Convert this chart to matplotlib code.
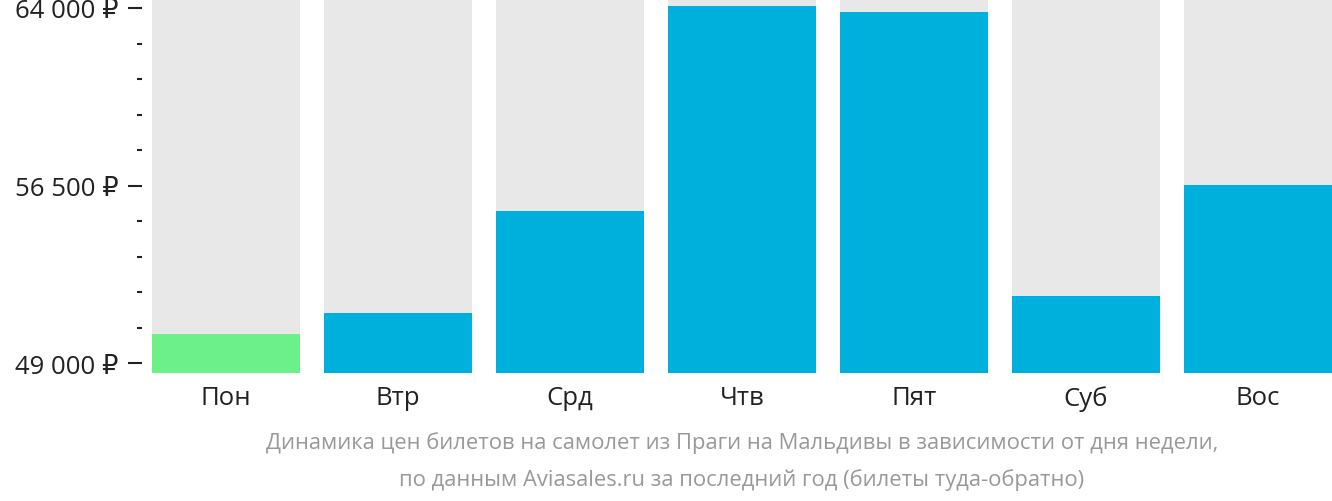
import matplotlib
matplotlib.use("Agg")
import matplotlib.pyplot as plt
from matplotlib.ticker import FixedLocator, FuncFormatter

plt.rcParams['font.family'] = ['Open Sans', 'DejaVu Sans']

days = ["Пон", "Втр", "Срд", "Чтв", "Пят", "Суб", "Вос"]
prices = [50225, 51110, 55420, 64080, 63830, 51830, 56520]
colors = ["#6cf08a", "#00b0dc", "#00b0dc", "#00b0dc", "#00b0dc", "#00b0dc", "#00b0dc"]
major_ticks = [49000, 56500, 64000]
minor_ticks = [50500, 52000, 53500, 55000, 58000, 59500, 61000, 62500]

y_min, y_max = 48580, 64380
width = 0.86

fig = plt.figure(figsize=(13.32, 5.02), dpi=100)
ax = fig.add_axes([152 / 1332, 1 - 374 / 502, 1 - 152 / 1332, 374 / 502])

x = range(len(days))
ax.bar(x, [y_max - y_min] * len(days), bottom=y_min, width=width, color="#e8e8e8")
ax.bar(x, [p - y_min for p in prices], bottom=y_min, width=width, color=colors)

ax.set_xlim(-width / 2, len(days) - 1 + width / 2)
ax.set_ylim(y_min, y_max)

ax.yaxis.set_major_locator(FixedLocator(major_ticks))
ax.yaxis.set_minor_locator(FixedLocator(minor_ticks))
ax.yaxis.set_major_formatter(FuncFormatter(lambda v, p: f"{int(v):,} ₽".replace(",", " ")))

for s in ax.spines.values():
    s.set_visible(False)
ax.spines['left'].set_position(('outward', 7.2))

ax.tick_params(axis='y', which='major', length=10, width=1.5, color="#222222",
               labelsize=18.5, labelcolor="#222222", pad=7)
ax.tick_params(axis='y', which='minor', length=3.6, width=1.5, color="#222222")
ax.set_xticks(list(x))
ax.set_xticklabels(days)
ax.tick_params(axis='x', length=0, labelsize=18.5, labelcolor="#222222", pad=8.5)

fig.text(742 / 1332, 1 - 443 / 502,
         "Динамика цен билетов на самолет из Праги на Мальдивы в зависимости от дня недели,",
         ha='center', va='center', fontsize=15.8, color="#999999")
fig.text(742 / 1332, 1 - 480 / 502,
         "по данным Aviasales.ru за последний год (билеты туда-обратно)",
         ha='center', va='center', fontsize=15.8, color="#999999")

fig.savefig("out.png", dpi=100)
